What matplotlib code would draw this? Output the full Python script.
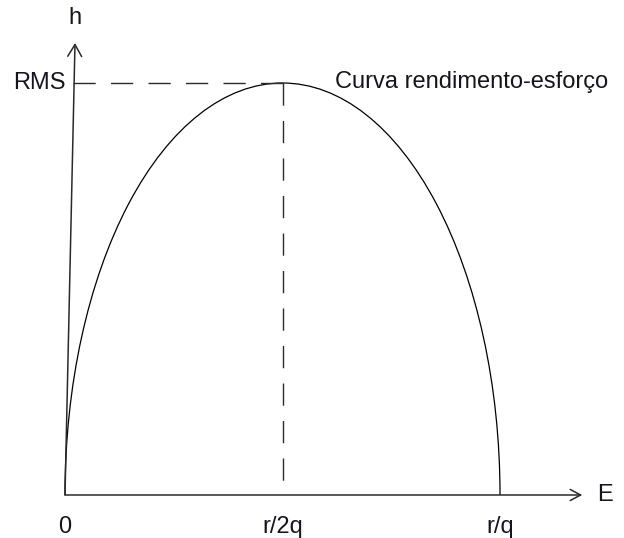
import matplotlib.pyplot as plt
from matplotlib.patches import Arc

# yield-effort curve (Schaefer), in units where r/q = 1 and RMS = 1
r_q = 1.0
rms = 1.0
e_peak = r_q / 2

tick_pos = [0.0, e_peak, r_q]
tick_labels = ["0", "r/2q", "r/q"]

plt.rcParams["font.family"] = ["Liberation Sans", "DejaVu Sans"]
txt = "#15151f"
axc = "#2a2a2a"
fs = 17

fig = plt.figure(figsize=(6.24, 5.38), dpi=100)
ax = fig.add_axes([0, 0, 1, 1])
ax.set_xlim(-0.1494, 1.285)
ax.set_ylim(-0.1044, 1.2015)
ax.set_axis_off()

# axes drawn as arrows (the h axis leans a little to the right)
ax.annotate("", xy=(1.189, 0), xytext=(0, 0),
            arrowprops=dict(arrowstyle="->,head_length=0.75,head_width=0.4",
                            color=axc, lw=1.1, shrinkA=0, shrinkB=0))
ax.annotate("", xy=(0.023, 1.097), xytext=(0, 0),
            arrowprops=dict(arrowstyle="->,head_length=0.85,head_width=0.5",
                            color=axc, lw=1.1, shrinkA=0, shrinkB=0))

# half ellipse from E=0 to E=r/q, top at RMS
ax.add_patch(Arc((r_q / 2, 0), width=r_q, height=2 * rms, theta1=0, theta2=180,
                 color="black", lw=0.9))

# dashed guides to the maximum
dash = (0, (16, 11))
ax.plot([0.019, e_peak], [rms, rms], color=axc, lw=1.0, linestyle=dash)
ax.plot([e_peak, e_peak], [rms, 0.025], color=axc, lw=1.0, linestyle=dash)

for p, lab in zip(tick_pos, tick_labels):
    ax.text(p, -0.078, lab, ha="center", va="center", fontsize=fs, color=txt)

ax.text(1.241, 0.0, "E", ha="center", va="center", fontsize=fs, color=txt)
ax.text(0.023, 1.158, "h", ha="center", va="center", fontsize=fs, color=txt)
ax.text(0.002, rms, "RMS", ha="right", va="center", fontsize=fs, color=txt)
ax.text(0.621, 1.003, "Curva rendimento-esforço", ha="left", va="center",
        fontsize=fs, color=txt)

fig.savefig("out.png", dpi=100)
